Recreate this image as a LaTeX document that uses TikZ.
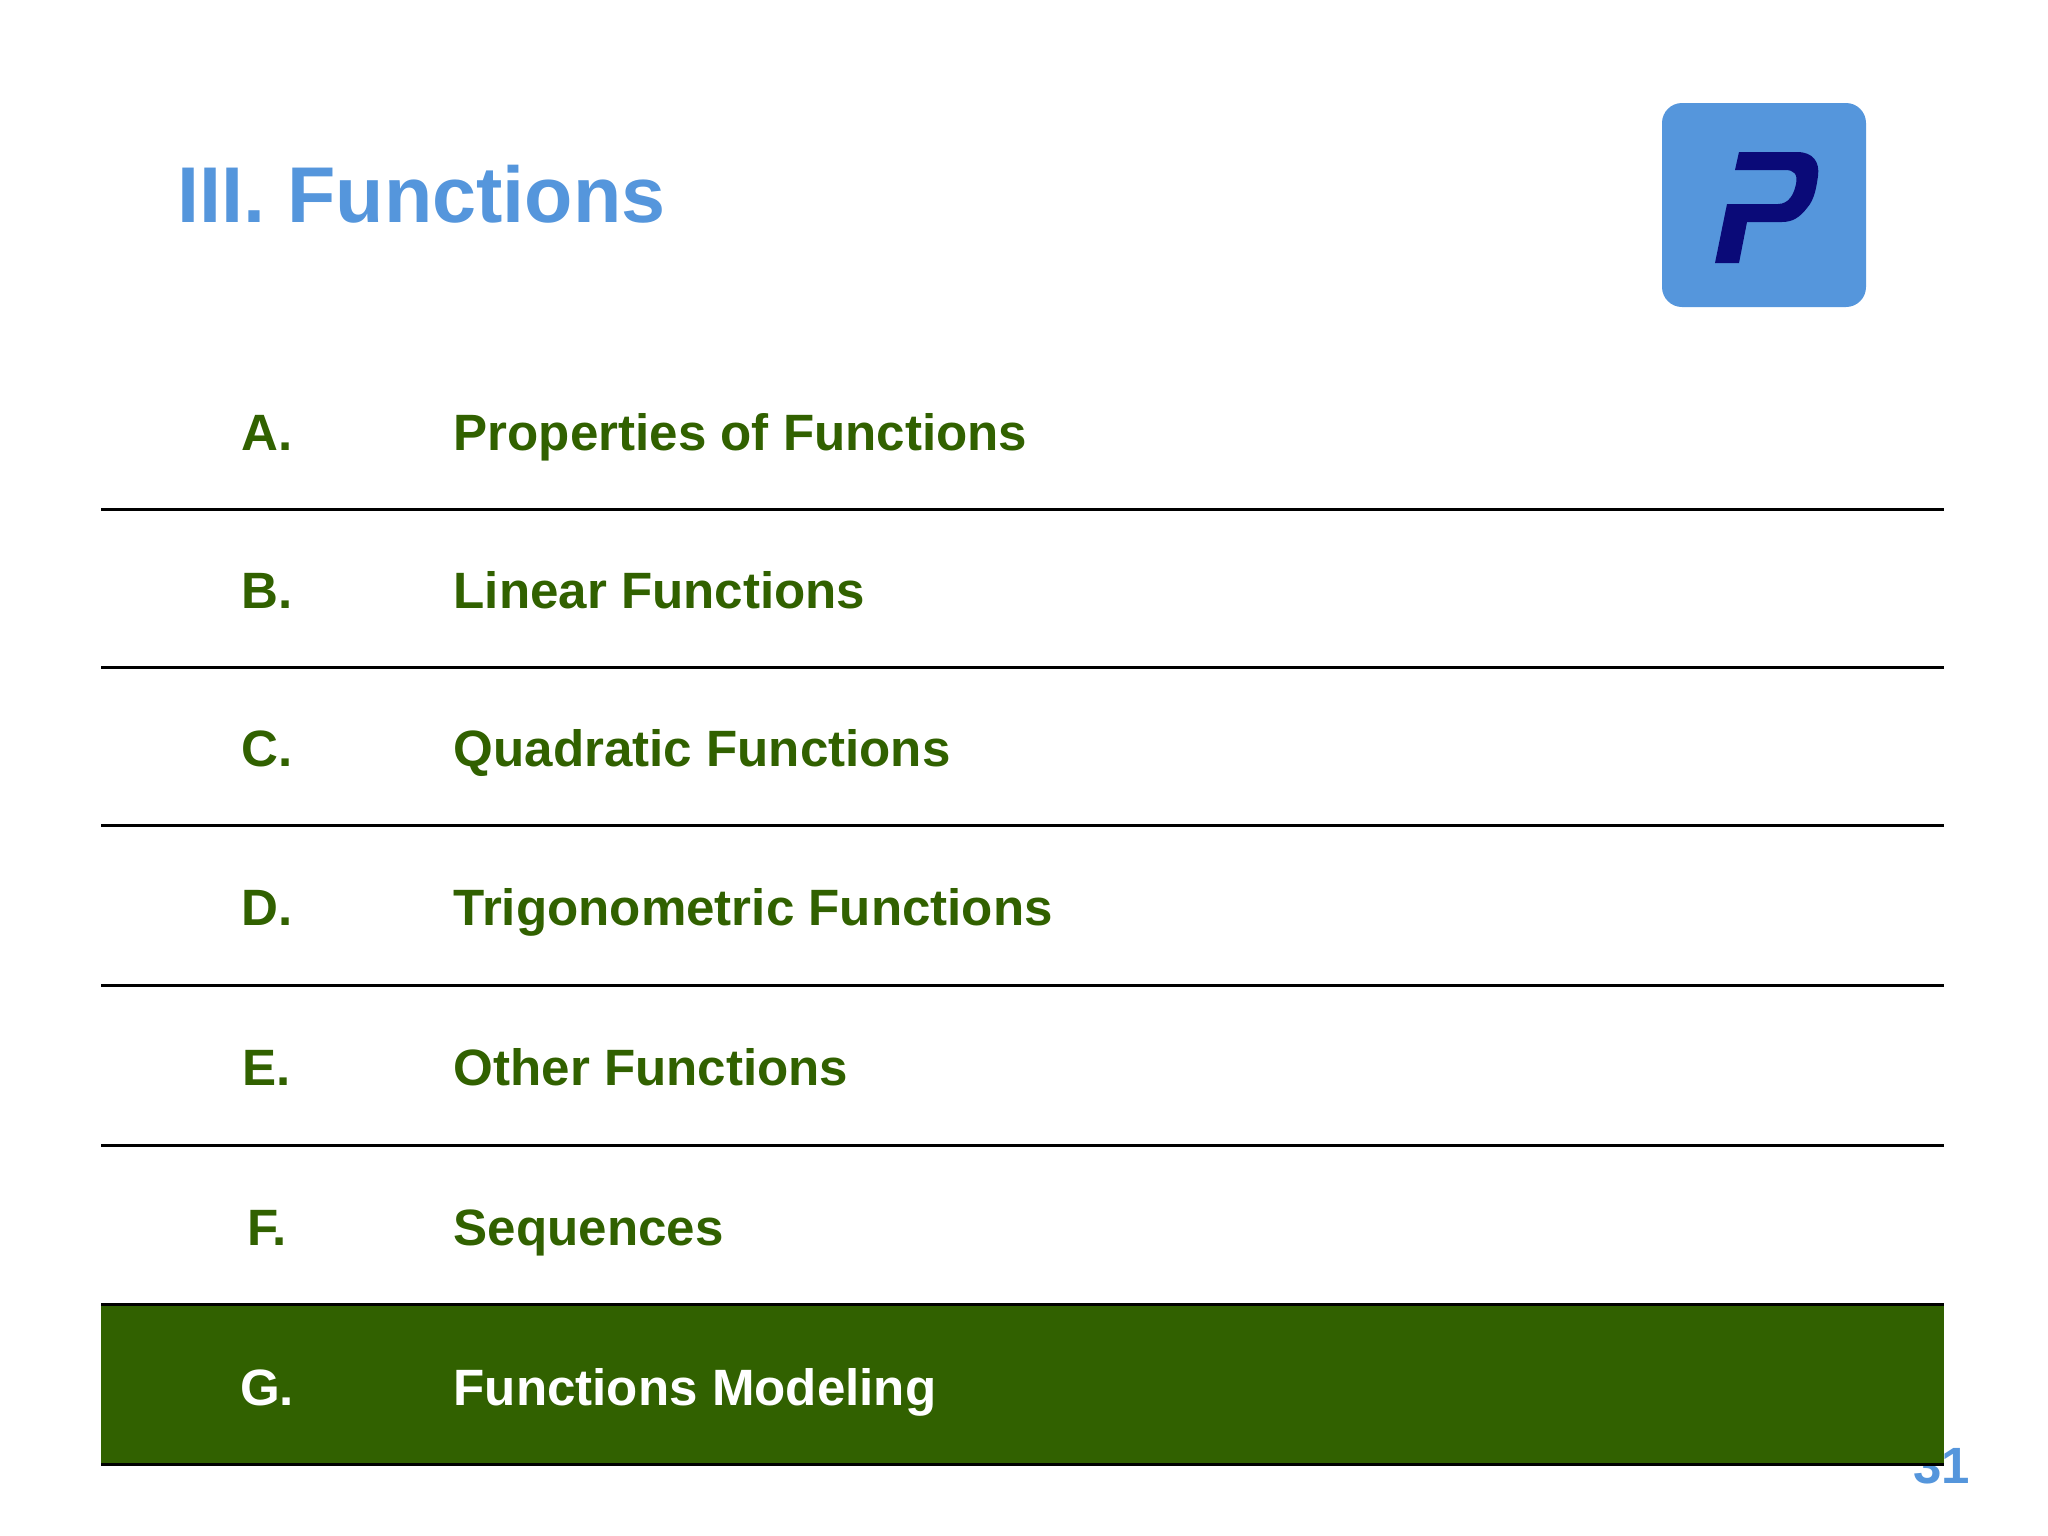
\documentclass[tikz,border=0pt]{standalone}
\usepackage{fontspec}
\setmainfont{Liberation Sans}
\definecolor{titleblue}{HTML}{5596DC}
\definecolor{rowgreen}{HTML}{316100}
\definecolor{logonavy}{HTML}{0A0A78}
\tikzset{
	heading/.style={anchor=base west,inner sep=0pt,text=titleblue,font=\fontsize{22.5pt}{27pt}\selectfont\bfseries},
	pagenum/.style={anchor=base east,inner sep=0pt,text=titleblue,font=\fontsize{14.5pt}{18pt}\selectfont\bfseries},
	letter/.style={anchor=base,inner sep=0pt,text=rowgreen,font=\fontsize{14.53pt}{18pt}\selectfont\bfseries},
	topic/.style={anchor=base west,inner sep=0pt,text=rowgreen,font=\fontsize{14.53pt}{18pt}\selectfont\bfseries},
	rowline/.style={black,line width=0.85pt}
}
\begin{document}
\begin{tikzpicture}[x=0.01cm,y=-0.01cm]
		\useasboundingbox (0,0) rectangle (2048,1536);
		\fill[white] (0,0) rectangle (2048,1536); % page
		\node[heading] (title) at (177,222) {III. Functions};
		\fill[titleblue,rounded corners=20*0.01cm] (1662,103) rectangle (1866,307); % logo
		\fill[logonavy] (1739,152) -- (1797,152) .. controls (1813,152) and (1820,162) .. (1818,176) .. controls (1816,190) and (1814,200) .. (1807,208) .. controls (1800,217) and (1793,222) .. (1782,222) -- (1747,222) -- (1739,263) -- (1715,263) -- (1727,204) -- (1778,204) .. controls (1789,204) and (1794,194) .. (1796,184) .. controls (1798,174) and (1794,170) .. (1785,170) -- (1735,170) -- cycle; % P
		\node[pagenum] (pagenum) at (1971,1483) {31};
		\fill[rowgreen] (101,1304) rectangle (1944,1464); % current row
		\draw[rowline] (101,509.5) -- (1944,509.5);
		\draw[rowline] (101,667.5) -- (1944,667.5);
		\draw[rowline] (101,825.5) -- (1944,825.5);
		\draw[rowline] (101,985) -- (1944,985);
		\draw[rowline] (101,1145) -- (1944,1145);
		\draw[rowline] (101,1304.5) -- (1944,1304.5);
		\draw[rowline] (101,1464) -- (1944,1464);
		\node[letter] (a) at (267,450) {A.};
		\node[topic] (atopic) at (453,450) {Properties of Functions};
		\node[letter] (b) at (267,608) {B.};
		\node[topic] (btopic) at (453,608) {Linear Functions};
		\node[letter] (c) at (267,766) {C.};
		\node[topic] (ctopic) at (453,766) {Quadratic Functions};
		\node[letter] (d) at (267,925.5) {D.};
		\node[topic] (dtopic) at (453,925.5) {Trigonometric Functions};
		\node[letter] (e) at (267,1085) {E.};
		\node[topic] (etopic) at (453,1085) {Other Functions};
		\node[letter] (f) at (267,1245) {F.};
		\node[topic] (ftopic) at (453,1245) {Sequences};
		\node[letter,text=white] (g) at (267,1405) {G.};
		\node[topic,text=white] (gtopic) at (453,1405) {Functions Modeling};
\end{tikzpicture}
\end{document}
